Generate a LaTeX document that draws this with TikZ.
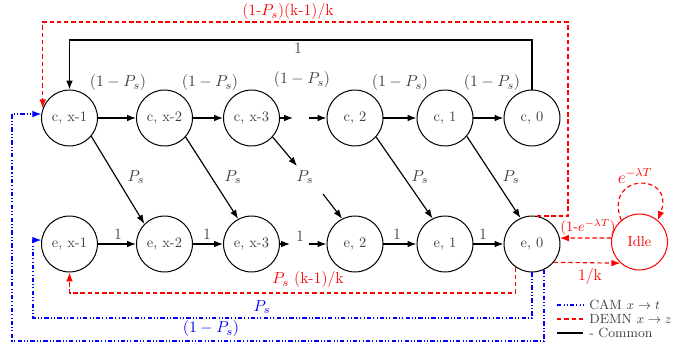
\documentclass[tikz,border=0pt]{standalone}
\usetikzlibrary{arrows.meta}
\definecolor{txt}{gray}{0.25}
\begin{document}
\begin{tikzpicture}[x=0.69pt,y=-0.69pt,
 st/.style={circle,draw,line width=0.7pt,minimum size=38.6pt,inner sep=0pt,text=txt},
 arr/.style={-{Latex[length=6.2pt,width=4.6pt]},line width=0.8pt},
 lab/.style={font=\fontsize{11}{13}\selectfont,text=txt,inner sep=0pt},
 rlab/.style={font=\fontsize{11}{13}\selectfont,text=red,inner sep=0pt},
 blab/.style={font=\fontsize{11}{13}\selectfont,text=blue,inner sep=0pt},
 rd/.style={draw=red,line width=0.8pt,dash pattern=on 3pt off 2pt},
 bl/.style={draw=blue,line width=0.8pt,dash pattern=on 3pt off 1.5pt on 0.7pt off 1.5pt on 0.7pt off 1.5pt},
 tip/.style={-{Latex[length=6.2pt,width=4.6pt]}},
 leg/.style={anchor=west,text=txt,inner sep=0pt,font=\fontsize{9.2}{10}\selectfont},
]
\useasboundingbox (0,0) rectangle (697,349);
% nodes
\node[st] (cx1) at (69.5,118) {c, x-1};
\node[st] (cx2) at (164.5,118) {c, x-2};
\node[st] (cx3) at (251.5,118) {c, x-3};
\node[st] (c2) at (355,118) {c, 2};
\node[st] (c1) at (445,118) {c, 1};
\node[st] (c0) at (532,118) {c, 0};
\node[st] (ex1) at (69.5,244) {e, x-1};
\node[st] (ex2) at (164.5,244) {e, x-2};
\node[st] (ex3) at (251.5,244) {e, x-3};
\node[st] (e2) at (355,244) {e, 2};
\node[st] (e1) at (445,244) {e, 1};
\node[st] (e0) at (532,244) {e, 0};
\node[st,draw=red,text=red] (idle) at (639.5,242) {Idle};
% helper coordinates
\coordinate (dt1) at (293,118);
\coordinate (dt2) at (309,118);
\coordinate (db1) at (290,244);
\coordinate (db2) at (309,244);
\coordinate (dd1) at (297,166);
\coordinate (dd2) at (323,194);
\coordinate (t1) at (532,40);
\coordinate (r1) at (568,22);
\coordinate (r2) at (69.5,293);
\coordinate (b1) at (33,318);
\coordinate (b2) at (12,341);
% top row
\draw[arr] (cx1) -- (cx2);
\draw[arr] (cx2) -- (cx3);
\draw[arr] (cx3) -- (dt1);
\draw[arr] (dt2) -- (c2);
\draw[arr] (c2) -- (c1);
\draw[arr] (c1) -- (c0);
\node[lab] (l1) at (118,83) {$(1-P_s)$};
\node[lab] (l2) at (210,83) {$(1-P_s)$};
\node[lab] (l3) at (302,80) {$(1-P_s)$};
\node[lab] (l4) at (400,83) {$(1-P_s)$};
\node[lab] (l5) at (492,83) {$(1-P_s)$};
% bottom row
\draw[arr] (ex1) -- (ex2);
\draw[arr] (ex2) -- (ex3);
\draw[arr] (ex3) -- (db1);
\draw[arr] (db2) -- (e2);
\draw[arr] (e2) -- (e1);
\draw[arr] (e1) -- (e0);
\node[lab] (m1) at (118,234) {1};
\node[lab] (m2) at (207,234) {1};
\node[lab] (m3) at (300,236) {1};
\node[lab] (m4) at (397,234) {1};
\node[lab] (m5) at (483,234) {1};
% diagonals
\draw[arr] (cx1.-40) -- (ex2.135);
\draw[arr] (cx2.-42) -- (ex3.118);
\draw[arr] (cx3.-42) -- (dd1);
\draw[arr] (dd2) -- (e2.117);
\draw[arr] (c2.-42) -- (e1.116);
\draw[arr] (c1.-40) -- (e0.114);
\node[lab] (p1) at (136,177) {$P_s$};
\node[lab] (p2) at (233,177) {$P_s$};
\node[lab] (p3) at (305,177) {$P_s$};
\node[lab] (p4) at (420,177) {$P_s$};
\node[lab] (p5) at (511,177) {$P_s$};
% top loop
\draw[arr] (c0.north) -- (t1) -| (cx1.north);
\node[lab] (one) at (298,48) {1};
% red paths
\draw[rd,tip] (e0.80) -| (r1) -| (cx1.160);
\node[rlab] (rt) at (288,12) {(1-$P_s$)(k-1)/k};
\draw[rd,tip] (e0.-125) |- (r2) -| (ex1.south);
\node[rlab] (rb) at (308,280) {$P_s$ (k-1)/k};
\draw[rd,tip] (idle.172) -- (e0.12);
\node[font=\fontsize{10}{12}\selectfont,text=red,inner sep=0pt] (rl1) at (588,227) {(1-$e^{-\lambda T}$)};
\draw[rd,tip] (e0.-40) -- (idle.-132);
\node[rlab] (rl2) at (590,277) {1/k};
\draw[rd,tip] (idle.130) .. controls (603,172) and (676,172) .. (idle.50);
\node[font=\fontsize{12}{14}\selectfont,text=red,inner sep=0pt] (rl3) at (635,176) {$e^{-\lambda T}$};
% blue paths
\draw[bl,tip] (e0.south) |- (b1) |- (ex1.172);
\node[blab] (bp1) at (262,307) {$P_s$};
\draw[bl,tip] (e0.-65) |- (b2) |- (cx1.172);
\node[blab] (bp2) at (211,329) {$(1-P_s)$};
% legend
\coordinate (g1a) at (557,305); \coordinate (g1b) at (583,305);
\coordinate (g2a) at (557,319); \coordinate (g2b) at (583,319);
\coordinate (g3a) at (557,333); \coordinate (g3b) at (583,333);
\draw[bl] (g1a) -- (g1b);
\draw[rd] (g2a) -- (g2b);
\draw[line width=0.8pt] (g3a) -- (g3b);
\node[leg] (lg1) at (589,305) {CAM $x\rightarrow t$};
\node[leg] (lg2) at (589,319) {DEMN $x\rightarrow z$};
\node[leg] (lg3) at (589,333) {- Common};
\end{tikzpicture}
\end{document}
